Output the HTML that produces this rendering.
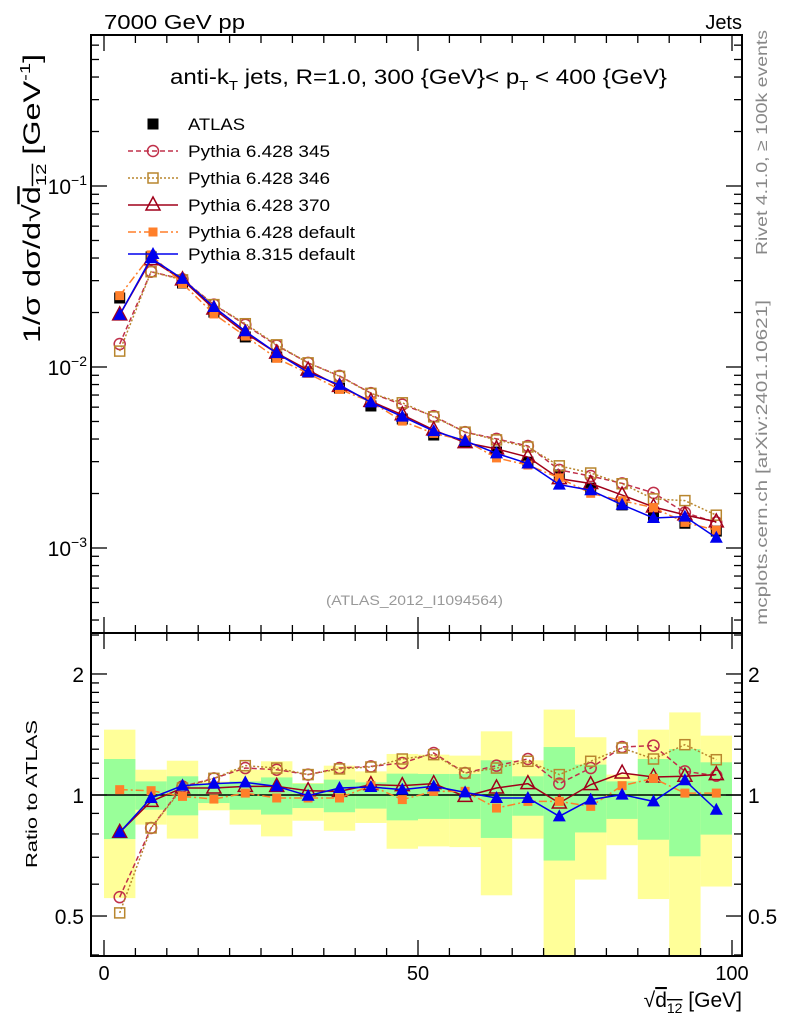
<!DOCTYPE html>
<html><head><meta charset="utf-8"><style>
body{margin:0;background:#fff;}
svg{display:block;font-family:"Liberation Sans",sans-serif;}
</style></head><body>
<svg id="c" width="786" height="1024" viewBox="0 0 786 1024" xmlns="http://www.w3.org/2000/svg">
<text x="104" y="29" font-size="20" textLength="141" lengthAdjust="spacingAndGlyphs">7000 GeV pp</text>
<text x="742" y="29" font-size="20" text-anchor="end">Jets</text>
<text x="170" y="84" font-size="21" textLength="497" lengthAdjust="spacingAndGlyphs">anti-k<tspan font-size="13" dy="6">T</tspan><tspan dy="-6"> jets, R=1.0, 300 {GeV}&lt; p</tspan><tspan font-size="13" dy="6">T</tspan><tspan dy="-6"> &lt; 400 {GeV}</tspan></text>
<text x="326" y="605" font-size="14" fill="#999" textLength="177" lengthAdjust="spacingAndGlyphs">(ATLAS_2012_I1094564)</text>
<text transform="translate(767,255) rotate(-90)" font-size="16" fill="#888" textLength="225" lengthAdjust="spacingAndGlyphs">Rivet 4.1.0, ≥ 100k events</text>
<text transform="translate(767,625) rotate(-90)" font-size="16" fill="#888" textLength="325" lengthAdjust="spacingAndGlyphs">mcplots.cern.ch [arXiv:2401.10621]</text>
<text transform="translate(40,343) rotate(-90) scale(1.35,1)" font-size="24">1/σ dσ/d√<tspan text-decoration="overline">d<tspan font-size="15" dy="6">12</tspan></tspan><tspan dy="-6"> [GeV</tspan><tspan font-size="15" dy="-10">-1</tspan><tspan dy="10">]</tspan></text>
<text transform="translate(37,868) rotate(-90)" font-size="16" textLength="148" lengthAdjust="spacingAndGlyphs">Ratio to ATLAS</text>
<text x="742" y="1007" font-size="21" text-anchor="end">√<tspan text-decoration="overline">d<tspan font-size="14" dy="6">12</tspan></tspan><tspan dy="-6"> [GeV]</tspan></text>
<g id="g"></g>
</svg>
<script>
const centers=[2.5,7.5,12.5,17.5,22.5,27.5,32.5,37.5,42.5,47.5,52.5,57.5,62.5,67.5,72.5,77.5,82.5,87.5,92.5,97.5];
const atlas=[0.02405,0.0406,0.0291,0.0201,0.01466,0.01136,0.00938,0.00765,0.00609,0.00516,0.00421,0.00385,0.00339,0.00298,0.00253,0.00214,0.00173,0.00152,0.00137,0.00124];
const r345=[0.557,0.828,1.05,1.10,1.167,1.156,1.124,1.167,1.178,1.201,1.272,1.134,1.183,1.229,1.067,1.167,1.316,1.327,1.145,1.117];
const r346=[0.509,0.828,1.041,1.10,1.183,1.167,1.124,1.161,1.174,1.229,1.26,1.134,1.167,1.213,1.124,1.213,1.309,1.229,1.334,1.224];
const r370=[0.807,0.964,1.041,1.041,1.051,1.051,1.025,1.021,1.061,1.055,1.067,0.992,1.041,1.067,0.955,1.061,1.134,1.109,1.113,1.124];
const rP6=[1.031,1.025,0.992,0.977,1.011,0.983,0.983,0.983,1.055,0.974,1.021,1.021,0.928,0.964,0.964,0.937,1.055,1.10,1.011,1.011];
const rP8=[0.807,0.983,1.055,1.067,1.075,1.051,0.996,1.041,1.047,1.031,1.051,1.015,0.983,0.983,0.885,0.974,1.002,0.964,1.088,0.919];
const yelHi=[1.454,1.156,1.217,1.081,1.156,1.213,1.071,1.183,1.145,1.265,1.26,1.253,1.44,1.22,1.631,1.392,1.124,1.454,1.605,1.405];
const yelLo=[0.554,0.844,0.779,0.916,0.844,0.789,0.863,0.815,0.852,0.735,0.745,0.742,0.563,0.779,0.397,0.616,0.75,0.551,0.40,0.592];
const grnHi=[1.229,1.081,1.113,1.067,1.081,1.106,1.067,1.092,1.075,1.13,1.128,1.128,1.22,1.113,1.316,1.19,1.081,1.229,1.301,1.206];
const grnLo=[0.777,0.919,0.89,0.955,0.919,0.894,0.928,0.906,0.925,0.865,0.872,0.872,0.782,0.888,0.687,0.807,0.872,0.774,0.704,0.797];
const xTicks=[0,50,100];
const yTicksMain=[-1,-2,-3];
const rTicks=[0.5,1,2];

const NS="http://www.w3.org/2000/svg";
const g=document.getElementById('g');
const L=91,R=742,T=35,MB=633,RB=956;
const X=v=>104+v*6.28;
const Y=v=>186-(Math.log10(v)+1)*181;
const YR=v=>795-Math.log10(v)*402;
function mk(tag,at,parent){const e=document.createElementNS(NS,tag);for(const k in at)e.setAttribute(k,at[k]);(parent||g).appendChild(e);return e;}

const bands=mk('g',{});


const clipR=mk('clipPath',{id:'cr'});mk('rect',{x:L,y:MB,width:R-L,height:RB-MB},clipR);
const clipM=mk('clipPath',{id:'cm'});mk('rect',{x:L,y:T,width:R-L,height:MB-T},clipM);
bands.setAttribute('clip-path','url(#cr)');
centers.forEach((c,i)=>{
  const y=mk('rect',{x:X(c-2.5),y:YR(yelHi[i]),width:X(c+2.5)-X(c-2.5),height:YR(yelLo[i])-YR(yelHi[i]),fill:'#ffff99'},bands);
  
  
  const gr=mk('rect',{x:X(c-2.5),y:YR(grnHi[i]),width:X(c+2.5)-X(c-2.5),height:YR(grnLo[i])-YR(grnHi[i]),fill:'#99ff99'},bands);
  
  
});
mk('line',{x1:L,x2:R,y1:YR(1),y2:YR(1),stroke:'#000','stroke-width':1.5});

mk('rect',{x:L,y:T,width:R-L,height:MB-T,fill:'none',stroke:'#000','stroke-width':2});
mk('rect',{x:L,y:MB,width:R-L,height:RB-MB,fill:'none',stroke:'#000','stroke-width':2});

for(let v=0;v<=100;v+=5){
  const len=(v%50===0)?16:8;
  [[T,1],[MB,-1],[MB,1],[RB,-1]].forEach(([y0,d])=>mk('line',{x1:X(v),x2:X(v),y1:y0,y2:y0+d*len,stroke:'#000','stroke-width':1.3}));
}
xTicks.forEach(v=>{const t=mk('text',{x:X(v),y:980,'font-size':20,'text-anchor':'middle'});t.textContent=v;

});

for(let d=-4;d<=0;d++){for(let m=1;m<10;m++){const v=m*Math.pow(10,d);const y=Y(v);if(y<T||y>MB)continue;const len=m===1?16:8;
mk('line',{x1:L,x2:L+len,y1:y,y2:y,stroke:'#000','stroke-width':1.3});mk('line',{x1:R,x2:R-len,y1:y,y2:y,stroke:'#000','stroke-width':1.3});}}
yTicksMain.forEach(d=>{const t=mk('text',{x:87,y:Y(Math.pow(10,d))+8,'font-size':21,'text-anchor':'end'});
t.innerHTML='10<tspan font-size="14" dy="-9">−'+(-d)+'</tspan>';

});

[0.4,0.5,0.6,0.7,0.8,0.9,1,1.1,1.2,1.3,1.4,1.5,1.6,1.7,1.8,1.9,2,2.5].forEach(v=>{const y=YR(v);if(y<MB||y>RB)return;const len=rTicks.includes(v)?16:8;
mk('line',{x1:L,x2:L+len,y1:y,y2:y,stroke:'#000','stroke-width':1.3});mk('line',{x1:R,x2:R-len,y1:y,y2:y,stroke:'#000','stroke-width':1.3});});
rTicks.forEach(v=>{[[84,'end'],[748,'start']].forEach(([x,a])=>{const t=mk('text',{x:x,y:YR(v)+8,'font-size':21,'text-anchor':a});t.textContent=v;

});});

function marker(p,type,col,x,y){
  const s=5.5;
  if(type==='sq')return mk('rect',{x:x-s,y:y-s,width:2*s,height:2*s,fill:col},p);
  if(type==='osq')return mk('rect',{x:x-5,y:y-5,width:10,height:10,fill:'none',stroke:col,'stroke-width':1.5},p);
  if(type==='oc')return mk('circle',{cx:x,cy:y,r:5.5,fill:'none',stroke:col,'stroke-width':1.5},p);
  if(type==='otri')return mk('polygon',{points:`${x},${y-8} ${x-7},${y+5} ${x+7},${y+5}`,fill:'none',stroke:col,'stroke-width':1.5},p);
  if(type==='tri')return mk('polygon',{points:`${x},${y-7} ${x-6.5},${y+5} ${x+6.5},${y+5}`,fill:col},p);
  if(type==='fsq')return mk('rect',{x:x-4.5,y:y-4.5,width:9,height:9,fill:col},p);
}
const series=[
 {name:'Pythia 6.428 345',r:r345,col:'#c0304a',dash:'5,3',m:'oc',id:'pythia6-345',tl:142},
 {name:'Pythia 6.428 346',r:r346,col:'#b8862e',dash:'2,2',m:'osq',id:'pythia6-346',tl:142},
 {name:'Pythia 6.428 370',r:r370,col:'#a0001a',dash:'',m:'otri',id:'pythia6-370',tl:142},
 {name:'Pythia 6.428 default',r:rP6,col:'#ff7f2a',dash:'8,3,2,3',m:'fsq',id:'pythia6-default',tl:167},
 {name:'Pythia 8.315 default',r:rP8,col:'#0000ee',dash:'',m:'tri',id:'pythia8-default',tl:167}
];
const ga=mk('g',{'clip-path':'url(#cm)'});


centers.forEach((c,i)=>marker(ga,'sq','#000',X(c),Y(atlas[i])));
series.forEach(s=>{
  const gm=mk('g',{'clip-path':'url(#cm)'});
  
  
  const pts=centers.map((c,i)=>X(c)+','+Y(atlas[i]*s.r[i])).join(' ');
  mk('polyline',{points:pts,fill:'none',stroke:s.col,'stroke-width':1.5,'stroke-dasharray':s.dash},gm);
  centers.forEach((c,i)=>marker(gm,s.m,s.col,X(c),Y(atlas[i]*s.r[i])));
  const gr=mk('g',{'clip-path':'url(#cr)'});
  
  
  const pr=centers.map((c,i)=>X(c)+','+YR(s.r[i])).join(' ');
  mk('polyline',{points:pr,fill:'none',stroke:s.col,'stroke-width':1.5,'stroke-dasharray':s.dash},gr);
  centers.forEach((c,i)=>marker(gr,s.m,s.col,X(c),YR(s.r[i])));
});
const lg=mk('g',{});


const ly=[124,151,178,205,232,254];
const e0=mk('g',{},lg);


marker(e0,'sq','#000',153,ly[0]);
mk('text',{x:188,y:ly[0]+6,'font-size':17,textLength:57,lengthAdjust:'spacingAndGlyphs'},e0).textContent='ATLAS';
series.forEach((s,k)=>{
  const e=mk('g',{},lg);
  
  
  mk('line',{x1:128,x2:178,y1:ly[k+1],y2:ly[k+1],stroke:s.col,'stroke-width':1.5,'stroke-dasharray':s.dash},e);
  marker(e,s.m,s.col,153,ly[k+1]);
  mk('text',{x:188,y:ly[k+1]+6,'font-size':17,textLength:s.tl,lengthAdjust:'spacingAndGlyphs'},e).textContent=s.name;
});
</script>
</body></html>
